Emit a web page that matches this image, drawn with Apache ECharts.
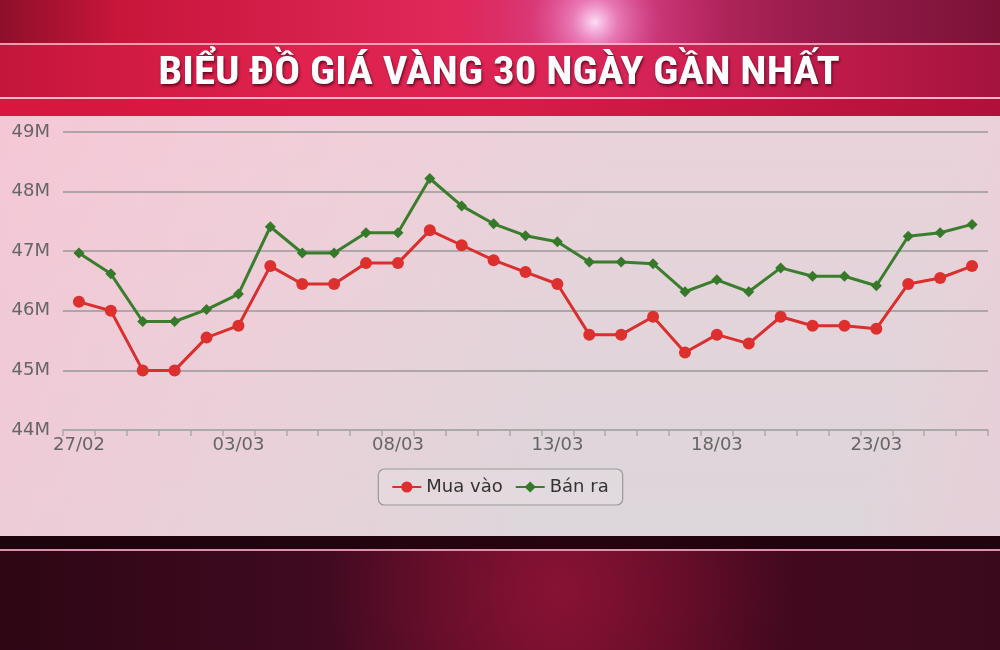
<!DOCTYPE html>
<html>
<head>
<meta charset="utf-8">
<script src="https://cdn.jsdelivr.net/npm/echarts@6/dist/echarts.min.js"></script>
<style>
html,body{margin:0;padding:0;background:#2a0614;}
#c{width:1000px;height:650px;}
</style>
</head>
<body>
<div id="c"></div>
<script>
// ---- data ----
const titleText = 'BIỂU ĐỒ GIÁ VÀNG 30 NGÀY GẦN NHẤT';
const categories = ['27/02','28/02','29/02','01/03','02/03','03/03','04/03','05/03','06/03','07/03','08/03','09/03','10/03','11/03','12/03','13/03','14/03','15/03','16/03','17/03','18/03','19/03','20/03','21/03','22/03','23/03','24/03','25/03','26/03'];
// values in millions VND
const muaVao = [46.15,46.0,45.0,45.0,45.55,45.75,46.75,46.45,46.45,46.8,46.8,47.35,47.1,46.85,46.65,46.45,45.6,45.6,45.9,45.3,45.6,45.45,45.9,45.75,45.75,45.7,46.45,46.55,46.75];
const banRa  = [46.97,46.62,45.82,45.82,46.02,46.28,47.41,46.97,46.97,47.31,47.31,48.22,47.76,47.46,47.26,47.16,46.82,46.82,46.79,46.32,46.52,46.32,46.72,46.58,46.58,46.42,47.25,47.31,47.45];
const seriesNames = ['Mua vào','Bán ra'];
const yTicks = {min:44, max:49, step:1};

const chart = echarts.init(document.getElementById('c'), null, {renderer:'canvas'});

const bg = [
  {type:'rect', shape:{x:0,y:0,width:1000,height:650}, style:{fill:'#3a0819'}, z:-20},
  // top area
  {type:'rect', shape:{x:0,y:0,width:1000,height:118}, style:{fill:new echarts.graphic.LinearGradient(0,0,1,0,[
    {offset:0,color:'#8e0f2a'},{offset:0.12,color:'#c8163a'},{offset:0.45,color:'#e0285a'},{offset:0.6,color:'#d0306e'},{offset:0.8,color:'#9a1d4e'},{offset:1,color:'#7a1236'}])}, z:-19},
  {type:'rect', shape:{x:400,y:0,width:400,height:45}, style:{fill:new echarts.graphic.RadialGradient(595,22,130,[
    {offset:0,color:'rgba(255,230,255,0.95)'},{offset:0.18,color:'rgba(245,160,220,0.65)'},{offset:0.5,color:'rgba(225,90,170,0.25)'},{offset:1,color:'rgba(220,60,140,0)'}], true)}, z:-18},
  // title band
  {type:'rect', shape:{x:0,y:45,width:1000,height:53}, style:{fill:new echarts.graphic.LinearGradient(0,0,1,0,[
    {offset:0,color:'#c8163c'},{offset:0.3,color:'#e0224e'},{offset:0.6,color:'#dc2456'},{offset:0.85,color:'#c01a48'},{offset:1,color:'#a8143e'}]), opacity:0.92}, z:-17},
  {type:'rect', shape:{x:0,y:43,width:1000,height:2}, style:{fill:'rgba(255,190,205,0.8)'}, z:-16},
  {type:'rect', shape:{x:0,y:97,width:1000,height:2}, style:{fill:'rgba(255,200,215,0.9)'}, z:-16},
  {type:'rect', shape:{x:0,y:99,width:1000,height:17}, style:{fill:new echarts.graphic.LinearGradient(0,0,1,0,[
    {offset:0,color:'#d8163e'},{offset:0.5,color:'#d81c48'},{offset:1,color:'#b0103a'}])}, z:-16},
  // bottom
  {type:'rect', shape:{x:0,y:536,width:1000,height:114}, style:{fill:new echarts.graphic.LinearGradient(0,0,1,0,[
    {offset:0,color:'#2e0614'},{offset:0.3,color:'#3e0a20'},{offset:0.55,color:'#5e0c28'},{offset:0.75,color:'#44091f'},{offset:1,color:'#3a0a1c'}])}, z:-15},
  {type:'rect', shape:{x:0,y:551,width:1000,height:99}, style:{fill:new echarts.graphic.RadialGradient(560,590,230,[
    {offset:0,color:'rgba(150,20,55,0.75)'},{offset:1,color:'rgba(150,20,55,0)'}], true)}, z:-14},
  {type:'rect', shape:{x:0,y:536,width:1000,height:13}, style:{fill:'rgba(25,2,10,0.8)'}, z:-13},
  {type:'rect', shape:{x:0,y:549,width:1000,height:2}, style:{fill:'rgba(235,160,190,0.9)'}, z:-13},
  // panel
  {type:'rect', shape:{x:0,y:116,width:1000,height:420}, style:{fill:new echarts.graphic.LinearGradient(0,0,0,1,[
    {offset:0,color:'#ead2da'},{offset:0.5,color:'#e2d4da'},{offset:1,color:'#ddd6da'}])}, z:-12},
  {type:'rect', shape:{x:0,y:116,width:1000,height:420}, style:{fill:new echarts.graphic.LinearGradient(0,0,1,0.6,[
    {offset:0,color:'rgba(255,190,210,0.55)'},{offset:0.35,color:'rgba(255,200,215,0.3)'},{offset:0.6,color:'rgba(255,200,215,0)'},{offset:0.9,color:'rgba(255,200,215,0.0)'},{offset:1,color:'rgba(250,190,210,0.25)'}])}, z:-11},
  // title
  {type:'text', x:499, y:74, scaleX:1.13, scaleY:1, z:10, style:{text:titleText, fill:'#ffffff',
    textAlign:'center', textVerticalAlign:'middle',
    font:'bold 38px "Liberation Sans Narrow", "Roboto Condensed", "Liberation Sans", sans-serif',
    textShadowColor:'rgba(60,0,15,0.75)', textShadowBlur:3, textShadowOffsetX:1, textShadowOffsetY:2}}
];

chart.setOption({
  animation:false,
  textStyle:{fontFamily:'"DejaVu Sans", sans-serif'},
  graphic: bg,
  grid:{left:63, right:12, top:132, bottom:220, containLabel:false},
  legend:{
    data:seriesNames, top:469, left:'center',
    padding:[9,14,9,13], itemGap:12, itemWidth:29, itemHeight:14,
    backgroundColor:'rgba(235,225,230,0.35)', borderColor:'#999', borderWidth:1.2, borderRadius:6,
    textStyle:{fontSize:18, color:'#333', fontFamily:'"DejaVu Sans", sans-serif'}
  },
  xAxis:{
    type:'category', data:categories, boundaryGap:true,
    axisLine:{lineStyle:{color:'#aaa', width:1.5}},
    axisTick:{show:true, interval:0, length:6, lineStyle:{color:'#aaa', width:1.5}},
    axisLabel:{interval:4, fontSize:18, color:'#666', margin:6}
  },
  yAxis:{
    type:'value', min:yTicks.min, max:yTicks.max, interval:yTicks.step,
    axisLine:{show:false}, axisTick:{show:false},
    splitLine:{lineStyle:{color:'#999', width:1.5}},
    axisLabel:{fontSize:18, color:'#666', margin:13, formatter:v=>v+'M'}
  },
  series:[
    {name:seriesNames[0], type:'line', data:muaVao, symbol:'circle', symbolSize:12,
     lineStyle:{color:'#d8302e', width:3}, itemStyle:{color:'#de2f2f'}},
    {name:seriesNames[1], type:'line', data:banRa, symbol:'diamond', symbolSize:11,
     lineStyle:{color:'#3a7d2c', width:3}, itemStyle:{color:'#357a28'}}
  ]
});
</script>
</body>
</html>
